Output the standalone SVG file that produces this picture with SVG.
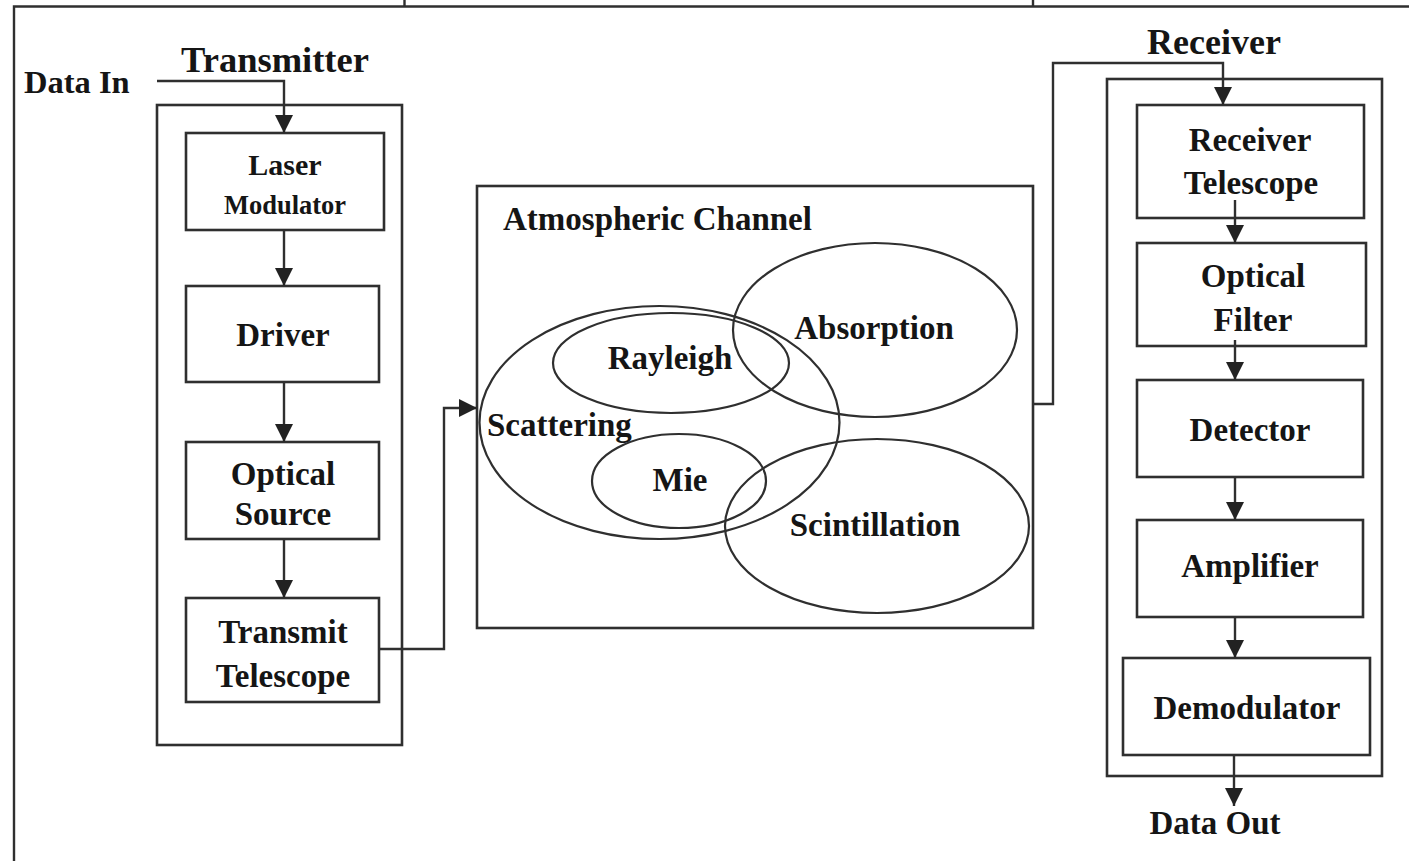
<svg xmlns="http://www.w3.org/2000/svg" width="1409" height="861" viewBox="0 0 1409 861">
<style>
.box{fill:none;stroke:#2f2f2f;stroke-width:2.6}
.ell{fill:none;stroke:#2f2f2f;stroke-width:2.2}
.ln{fill:none;stroke:#2f2f2f;stroke-width:2.4}
.t{font-family:"Liberation Serif","Times New Roman",serif;font-weight:bold;fill:#151515;font-size:33px;text-anchor:middle}
.l{text-anchor:start}
</style>
<defs>
<marker id="ah" markerUnits="userSpaceOnUse" markerWidth="20" markerHeight="20" viewBox="0 0 20 20" refX="18" refY="10" orient="auto">
<path d="M0,1 L18,10 L0,19 Z" fill="#222"/>
</marker>
</defs>
<rect width="1409" height="861" fill="#fff"/>
<g id="frame">
<path class="ln" d="M14,861 V6.5 H1409 M404.5,0 V6.5 M1033,0 V6.5" stroke-width="2"/>
</g>
<g id="transmitter">
<rect class="box" x="157" y="105" width="245" height="640"/>
<text class="t" x="275" y="72" style="font-size:36.5px">Transmitter</text>
</g>
<g id="data-in"><text class="t l" x="24" y="93" style="font-size:32.5px">Data In</text></g>
<g id="laser-modulator">
<rect class="box" x="186" y="133" width="198" height="97"/>
<text class="t" x="285" y="175" style="font-size:30px">Laser</text>
<text class="t" x="285" y="214" style="font-size:26.5px">Modulator</text>
</g>
<g id="driver">
<rect class="box" x="186" y="286" width="193" height="96"/>
<text class="t" x="283" y="346">Driver</text>
</g>
<g id="optical-source">
<rect class="box" x="186" y="442" width="193" height="97"/>
<text class="t" x="283" y="485">Optical</text>
<text class="t" x="283" y="525">Source</text>
</g>
<g id="transmit-telescope">
<rect class="box" x="186" y="598" width="193" height="104"/>
<text class="t" x="283" y="643">Transmit</text>
<text class="t" x="283" y="687">Telescope</text>
</g>
<g id="atmospheric-channel">
<rect class="box" x="477" y="186" width="556" height="442"/>
<text class="t l" x="503" y="230">Atmospheric Channel</text>
</g>
<g id="scattering">
<ellipse class="ell" cx="659.5" cy="422.5" rx="180" ry="116.5"/>
<text class="t l" x="487" y="436">Scattering</text>
</g>
<g id="rayleigh">
<ellipse class="ell" cx="671" cy="363" rx="118" ry="50"/>
<text class="t" x="670" y="369">Rayleigh</text>
</g>
<g id="absorption">
<ellipse class="ell" cx="875" cy="330" rx="142" ry="87"/>
<text class="t" x="874" y="339">Absorption</text>
</g>
<g id="mie">
<ellipse class="ell" cx="679" cy="481" rx="87" ry="47"/>
<text class="t" x="680" y="491">Mie</text>
</g>
<g id="scintillation">
<ellipse class="ell" cx="877" cy="526" rx="152" ry="87"/>
<text class="t" x="875" y="536">Scintillation</text>
</g>
<g id="receiver">
<rect class="box" x="1107" y="79" width="275" height="697"/>
<text class="t" x="1214" y="54" style="font-size:36px">Receiver</text>
</g>
<g id="receiver-telescope">
<rect class="box" x="1137" y="105" width="227" height="113"/>
<text class="t" x="1250" y="151">Receiver</text>
<text class="t" x="1251" y="194">Telescope</text>
</g>
<g id="optical-filter">
<rect class="box" x="1137" y="243" width="229" height="103"/>
<text class="t" x="1253" y="287">Optical</text>
<text class="t" x="1253" y="331">Filter</text>
</g>
<g id="detector">
<rect class="box" x="1137" y="380" width="226" height="97"/>
<text class="t" x="1250" y="441">Detector</text>
</g>
<g id="amplifier">
<rect class="box" x="1137" y="520" width="226" height="97"/>
<text class="t" x="1250" y="577">Amplifier</text>
</g>
<g id="demodulator">
<rect class="box" x="1123" y="658" width="247" height="97"/>
<text class="t" x="1247" y="719">Demodulator</text>
</g>
<g id="data-out"><text class="t" x="1215" y="834">Data Out</text></g>
<g id="connectors">
<path class="ln" d="M157,81 H284 V133" marker-end="url(#ah)"/>
<path class="ln" d="M284,230 V286" marker-end="url(#ah)"/>
<path class="ln" d="M284,382 V442" marker-end="url(#ah)"/>
<path class="ln" d="M284,539 V598" marker-end="url(#ah)"/>
<path class="ln" d="M379,649 H444 V408 H477" marker-end="url(#ah)"/>
<path class="ln" d="M1033,404 H1053 V63 H1223 V105" marker-end="url(#ah)"/>
<path class="ln" d="M1235,200 V243" marker-end="url(#ah)"/>
<path class="ln" d="M1235,340 V380" marker-end="url(#ah)"/>
<path class="ln" d="M1235,477 V520" marker-end="url(#ah)"/>
<path class="ln" d="M1235,617 V658" marker-end="url(#ah)"/>
<path class="ln" d="M1234,755 V806" marker-end="url(#ah)"/>
</g>
</svg>
